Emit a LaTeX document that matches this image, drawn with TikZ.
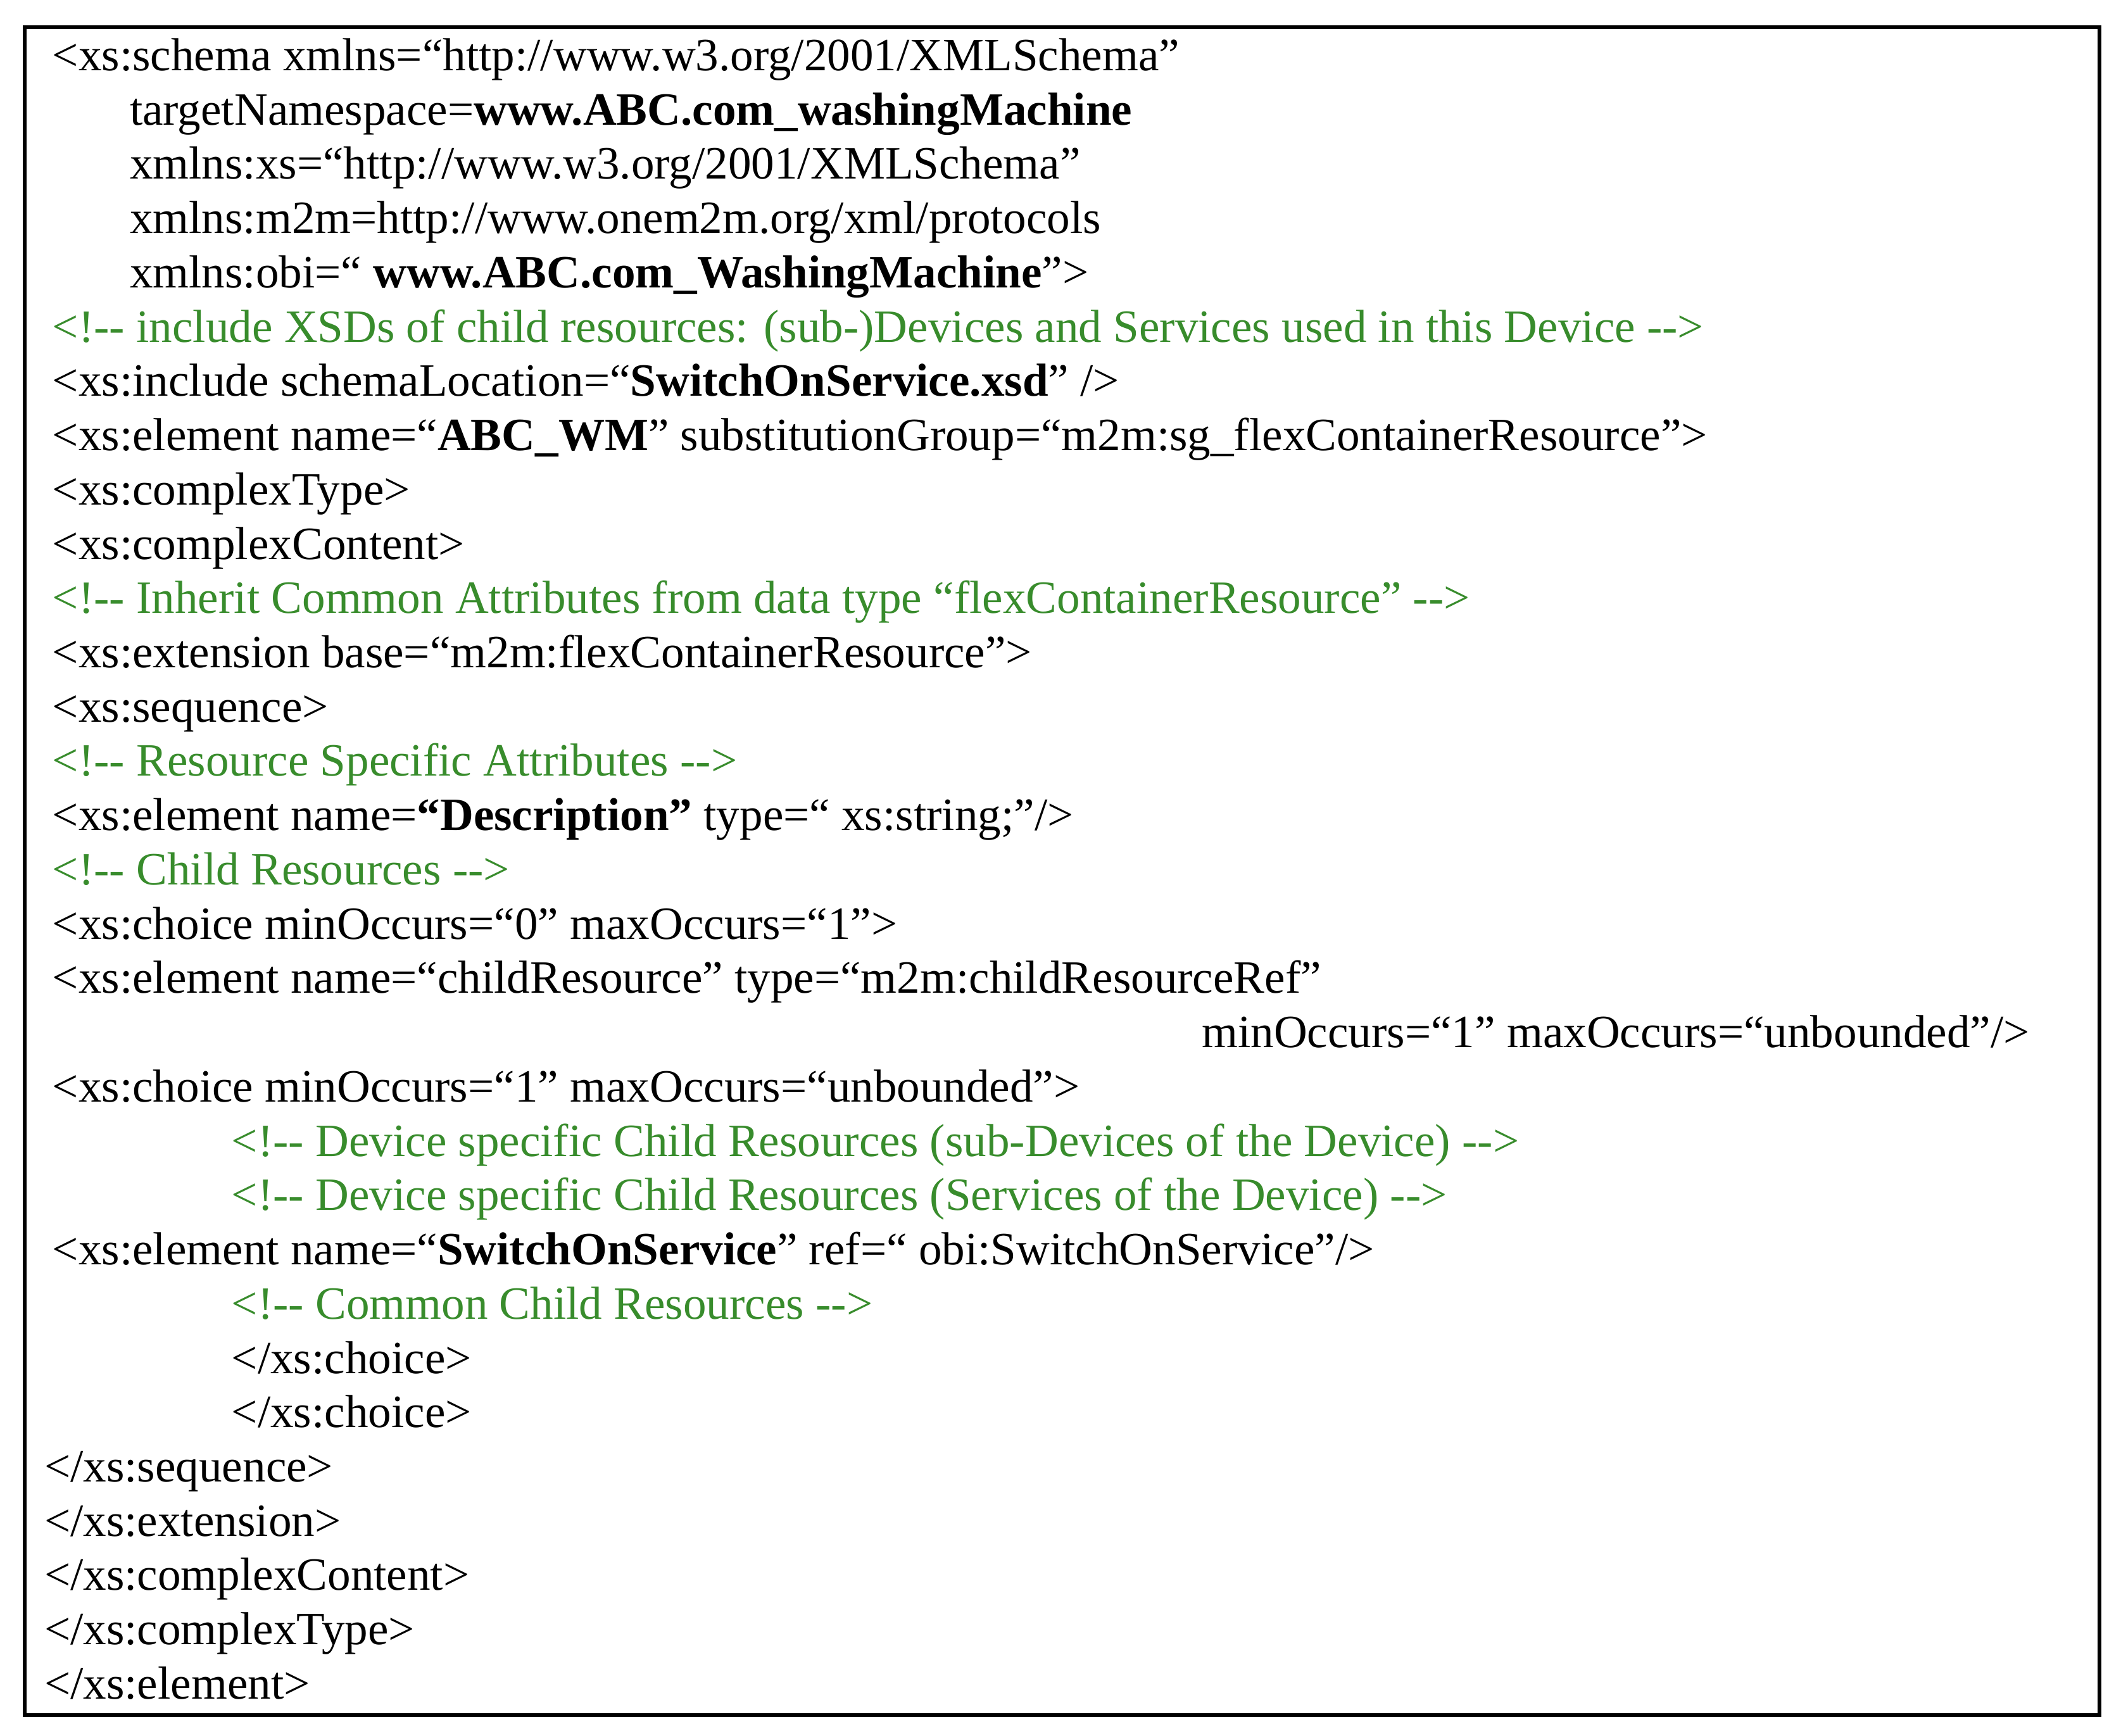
\documentclass[tikz,border=0pt]{standalone}
\usepackage{fontspec}
\setmainfont{Liberation Serif}
\definecolor{cmtgreen}{RGB}{56,140,44}
\tikzset{
  code/.style={anchor=base west,inner sep=0pt,font=\fontsize{9.7}{12}\selectfont},
  cmt/.style={code,text=cmtgreen}
}
\begin{document}
\begin{tikzpicture}[x=0.01cm,y=-0.01cm]
\useasboundingbox (0,0) rectangle (1563,1279);
\draw[line width=0.8pt] (18,20) rectangle (1547,1264);
\node[code] (l1) at (38,52) {<xs:schema xmlns=“http://www.w3.org/2001/XMLSchema”};
\node[code] (l2) at (95,92) {targetNamespace=\textbf{www.ABC.com\_washingMachine}};
\node[code] (l3) at (95,132) {xmlns:xs=“http://www.w3.org/2001/XMLSchema”};
\node[code] (l4) at (95,172) {xmlns:m2m=http://www.onem2m.org/xml/protocols};
\node[code] (l5) at (95,212) {xmlns:obi=“ \textbf{www.ABC.com\_WashingMachine}”>};
\node[cmt] (l6) at (38,252) {<!-{}- include XSDs of child resources: (sub-)Devices and Services used in this Device -{}->};
\node[code] (l7) at (38,292) {<xs:include schemaLocation=“\textbf{SwitchOnService.xsd}” />};
\node[code] (l8) at (38,332) {<xs:element name=“\textbf{ABC\_WM}” substitutionGroup=“m2m:sg\_flexContainerResource”>};
\node[code] (l9) at (38,372) {<xs:complexType>};
\node[code] (l10) at (38,412) {<xs:complexContent>};
\node[cmt] (l11) at (38,452) {<!-{}- Inherit Common Attributes from data type “flexContainerResource” -{}->};
\node[code] (l12) at (38,492) {<xs:extension base=“m2m:flexContainerResource”>};
\node[code] (l13) at (38,532) {<xs:sequence>};
\node[cmt] (l14) at (38,572) {<!-{}- Resource Specific Attributes -{}->};
\node[code] (l15) at (38,612) {<xs:element name=\textbf{“Description”} type=“ xs:string;”/>};
\node[cmt] (l16) at (38,652) {<!-{}- Child Resources -{}->};
\node[code] (l17) at (38,692) {<xs:choice minOccurs=“0” maxOccurs=“1”>};
\node[code] (l18) at (38,732) {<xs:element name=“childResource” type=“m2m:childResourceRef”};
\node[code] (l19) at (885,772) {minOccurs=“1” maxOccurs=“unbounded”/>};
\node[code] (l20) at (38,812) {<xs:choice minOccurs=“1” maxOccurs=“unbounded”>};
\node[cmt] (l21) at (170,852) {<!-{}- Device specific Child Resources (sub-Devices of the Device) -{}->};
\node[cmt] (l22) at (170,892) {<!-{}- Device specific Child Resources (Services of the Device) -{}->};
\node[code] (l23) at (38,932) {<xs:element name=“\textbf{SwitchOnService}” ref=“ obi:SwitchOnService”/>};
\node[cmt] (l24) at (170,972) {<!-{}- Common Child Resources -{}->};
\node[code] (l25) at (170,1012) {</xs:choice>};
\node[code] (l26) at (170,1052) {</xs:choice>};
\node[code] (l27) at (32,1092) {</xs:sequence>};
\node[code] (l28) at (32,1132) {</xs:extension>};
\node[code] (l29) at (32,1172) {</xs:complexContent>};
\node[code] (l30) at (32,1212) {</xs:complexType>};
\node[code] (l31) at (32,1252) {</xs:element>};
\end{tikzpicture}
\end{document}
